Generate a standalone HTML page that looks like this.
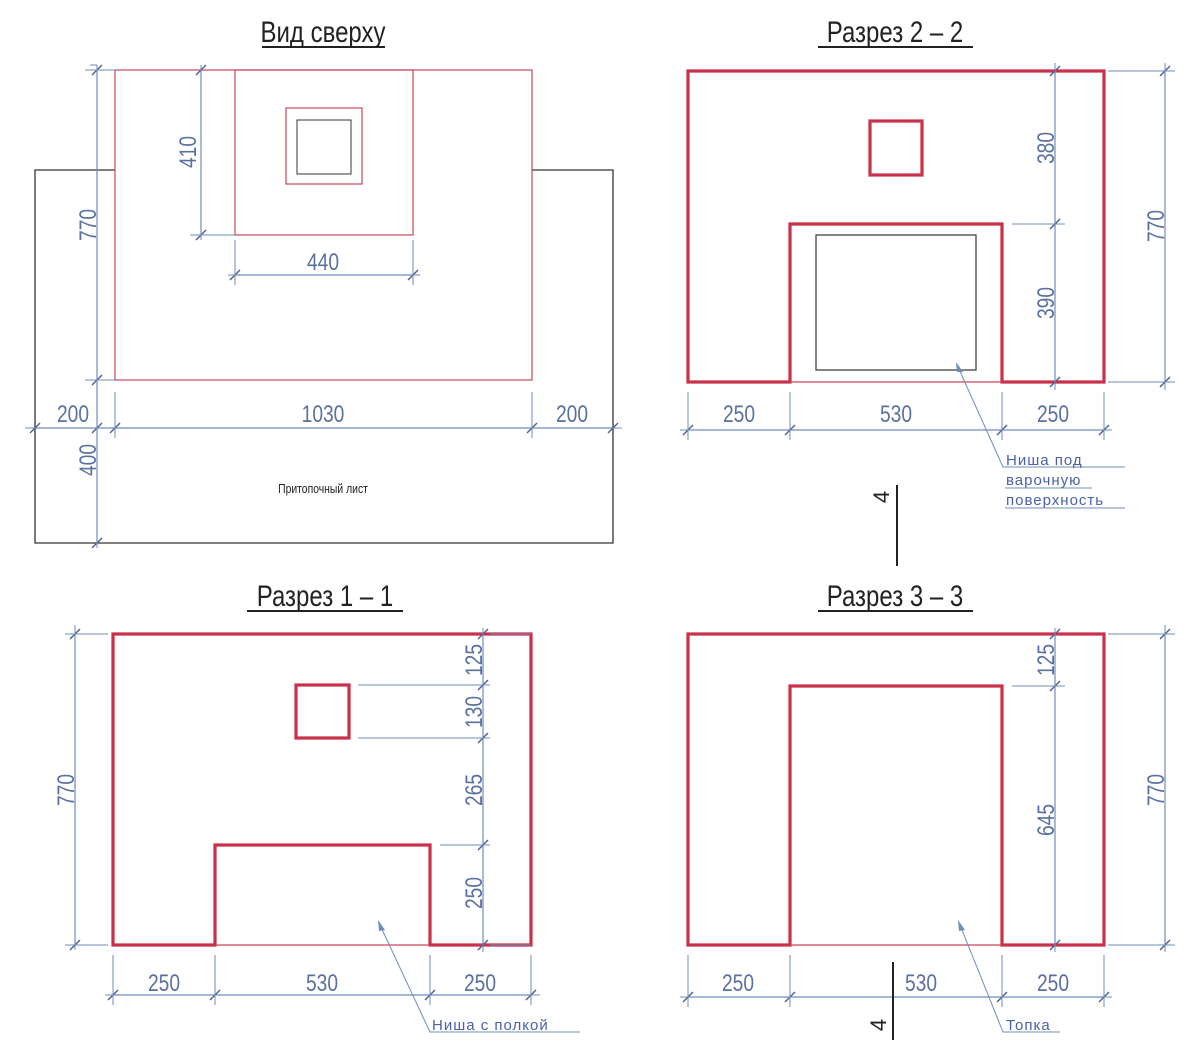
<!DOCTYPE html>
<html><head><meta charset="utf-8"><style>
html,body{margin:0;padding:0;background:#fff;}
svg{display:block;}
.d{fill:none;stroke:#6f8cba;stroke-width:1.2;marker-start:url(#t);marker-mid:url(#t);marker-end:url(#t);}
.e{fill:none;stroke:#6f8cba;stroke-width:1;}
.rt{fill:none;stroke:#c9485a;stroke-width:1.2;}
.rk{fill:none;stroke:#c9304a;stroke-width:3.2;stroke-linejoin:miter;}
.bk{fill:none;stroke:#333;stroke-width:1.3;}
text{font-family:"Liberation Sans",sans-serif;}
.n{fill:#5a70a0;font-size:24px;}
.ti{fill:#222;font-size:30px;}
.lb{fill:#4a60a8;font-size:15px;letter-spacing:1px;}
</style></head><body>
<svg width="1194" height="1055" viewBox="0 0 1194 1055" xmlns="http://www.w3.org/2000/svg">
<defs><marker id="t" markerWidth="14" markerHeight="14" refX="7" refY="7" markerUnits="userSpaceOnUse"><line x1="2" y1="12" x2="12" y2="2" stroke="#4a6090" stroke-width="1.4"/></marker></defs>

<!-- Titles -->
<g transform="translate(323,42) scale(0.8,1)"><text class="ti" text-anchor="middle">Вид сверху</text></g>
<line x1="262" y1="47" x2="385" y2="47" stroke="#222" stroke-width="2"/>
<g transform="translate(895,42) scale(0.8,1)"><text class="ti" text-anchor="middle">Разрез 2 – 2</text></g>
<line x1="818" y1="47" x2="973" y2="47" stroke="#222" stroke-width="2"/>
<g transform="translate(325,606) scale(0.8,1)"><text class="ti" text-anchor="middle">Разрез 1 – 1</text></g>
<line x1="247" y1="611" x2="403" y2="611" stroke="#222" stroke-width="2"/>
<g transform="translate(895,606) scale(0.8,1)"><text class="ti" text-anchor="middle">Разрез 3 – 3</text></g>
<line x1="818" y1="611" x2="973" y2="611" stroke="#222" stroke-width="2"/>

<!-- TOP VIEW -->
<path class="bk" d="M115,170 H35 V543 H613 V170 H532"/>
<rect class="rt" x="115" y="70" width="417" height="310"/>
<rect class="rt" x="235" y="70" width="178" height="165"/>
<rect class="rt" x="286" y="108" width="76" height="76"/>
<rect class="bk" x="297" y="120" width="54" height="54" style="stroke-width:1"/>
<polyline class="d" points="97,70 97,380 97,428 97,543"/>
<line class="e" x1="90" y1="65" x2="97" y2="65"/>
<line class="e" x1="97" y1="65" x2="97" y2="548"/>
<polyline class="d" points="35,428 115,428 532,428 613,428"/>
<line class="e" x1="25" y1="428" x2="622" y2="428"/>
<line class="e" x1="115" y1="392" x2="115" y2="438"/>
<line class="e" x1="532" y1="392" x2="532" y2="438"/>
<line class="e" x1="85" y1="70" x2="115" y2="70"/>
<line class="e" x1="85" y1="380" x2="115" y2="380"/>
<polyline class="d" points="201,70 201,235"/>
<line class="e" x1="201" y1="65" x2="201" y2="240"/>
<line class="e" x1="190" y1="235" x2="235" y2="235"/>
<polyline class="d" points="235,275 413,275"/>
<line class="e" x1="228" y1="275" x2="420" y2="275"/>
<line class="e" x1="235" y1="240" x2="235" y2="285"/>
<line class="e" x1="413" y1="240" x2="413" y2="285"/>
<g transform="translate(96,225) rotate(-90) scale(0.8,1)"><text class="n" text-anchor="middle">770</text></g>
<g transform="translate(96,460) rotate(-90) scale(0.8,1)"><text class="n" text-anchor="middle">400</text></g>
<g transform="translate(196,152) rotate(-90) scale(0.8,1)"><text class="n" text-anchor="middle">410</text></g>
<g transform="translate(323,270) scale(0.8,1)"><text class="n" text-anchor="middle">440</text></g>
<g transform="translate(73,422) scale(0.8,1)"><text class="n" text-anchor="middle">200</text></g>
<g transform="translate(323,422) scale(0.8,1)"><text class="n" text-anchor="middle">1030</text></g>
<g transform="translate(572,422) scale(0.8,1)"><text class="n" text-anchor="middle">200</text></g>
<g transform="translate(323,493) scale(0.8,1)"><text style="font-size:13px;fill:#222" text-anchor="middle">Притопочный лист</text></g>

<!-- SECTION 2-2 -->
<path class="rk" d="M790,382 H688 V71 H1104 V382 H1002 V224 H790 Z"/>
<line class="rt" x1="790" y1="382" x2="1002" y2="382"/>
<rect class="rk" x="870" y="121" width="52" height="54"/>
<rect class="bk" x="816" y="235" width="160" height="135" style="stroke-width:1.2"/>
<polyline class="d" points="1055,71 1055,224 1055,382"/>
<line class="e" x1="1055" y1="63" x2="1055" y2="390"/>
<polyline class="d" points="1165,71 1165,382"/>
<line class="e" x1="1165" y1="63" x2="1165" y2="390"/>
<line class="e" x1="1108" y1="71" x2="1175" y2="71"/>
<line class="e" x1="1108" y1="382" x2="1175" y2="382"/>
<line class="e" x1="1012" y1="224" x2="1065" y2="224"/>
<polyline class="d" points="688,430 790,430 1002,430 1104,430"/>
<line class="e" x1="680" y1="430" x2="1112" y2="430"/>
<line class="e" x1="688" y1="392" x2="688" y2="440"/>
<line class="e" x1="790" y1="392" x2="790" y2="440"/>
<line class="e" x1="1002" y1="392" x2="1002" y2="440"/>
<line class="e" x1="1104" y1="392" x2="1104" y2="440"/>
<g transform="translate(1054,148) rotate(-90) scale(0.8,1)"><text class="n" text-anchor="middle">380</text></g>
<g transform="translate(1054,303) rotate(-90) scale(0.8,1)"><text class="n" text-anchor="middle">390</text></g>
<g transform="translate(1164,226) rotate(-90) scale(0.8,1)"><text class="n" text-anchor="middle">770</text></g>
<g transform="translate(739,422) scale(0.8,1)"><text class="n" text-anchor="middle">250</text></g>
<g transform="translate(896,422) scale(0.8,1)"><text class="n" text-anchor="middle">530</text></g>
<g transform="translate(1053,422) scale(0.8,1)"><text class="n" text-anchor="middle">250</text></g>
<path class="e" d="M958,367 L1003,467 H1125"/>
<path d="M956,362 L963,372 L957,372 Z" fill="#6f8cba"/>
<text class="lb" x="1006" y="465">Ниша под</text>
<text class="lb" x="1006" y="485">варочную</text>
<line class="e" x1="1005" y1="488" x2="1092" y2="488"/>
<text class="lb" x="1006" y="505">поверхность</text>
<line class="e" x1="1005" y1="508" x2="1125" y2="508"/>
<line x1="897" y1="485" x2="897" y2="566" stroke="#222" stroke-width="2"/>
<g transform="translate(889,497) rotate(-90)"><text style="font-size:22px;fill:#222" text-anchor="middle">4</text></g>

<!-- SECTION 1-1 -->
<path class="rk" d="M215,945 H113 V634 H531 V945 H430 V845 H215 Z"/>
<line class="rt" x1="215" y1="945" x2="430" y2="945"/>
<rect class="rk" x="296" y="685" width="53" height="53"/>
<polyline class="d" points="483,634 483,685 483,738 483,845 483,945"/>
<line class="e" x1="483" y1="628" x2="483" y2="952"/>
<line class="e" x1="358" y1="685" x2="490" y2="685"/>
<line class="e" x1="358" y1="738" x2="490" y2="738"/>
<line class="e" x1="440" y1="845" x2="490" y2="845"/>
<line class="e" x1="531" y1="634" x2="490" y2="634"/>
<line class="e" x1="531" y1="945" x2="490" y2="945"/>
<polyline class="d" points="75,634 75,945"/>
<line class="e" x1="75" y1="625" x2="75" y2="950"/>
<line class="e" x1="65" y1="634" x2="108" y2="634"/>
<line class="e" x1="65" y1="945" x2="108" y2="945"/>
<polyline class="d" points="113,995 215,995 430,995 531,995"/>
<line class="e" x1="105" y1="995" x2="540" y2="995"/>
<line class="e" x1="113" y1="955" x2="113" y2="1005"/>
<line class="e" x1="215" y1="955" x2="215" y2="1005"/>
<line class="e" x1="430" y1="955" x2="430" y2="1005"/>
<line class="e" x1="531" y1="955" x2="531" y2="1005"/>
<g transform="translate(482,660) rotate(-90) scale(0.8,1)"><text class="n" text-anchor="middle">125</text></g>
<g transform="translate(482,712) rotate(-90) scale(0.8,1)"><text class="n" text-anchor="middle">130</text></g>
<g transform="translate(482,790) rotate(-90) scale(0.8,1)"><text class="n" text-anchor="middle">265</text></g>
<g transform="translate(482,893) rotate(-90) scale(0.8,1)"><text class="n" text-anchor="middle">250</text></g>
<g transform="translate(74,790) rotate(-90) scale(0.8,1)"><text class="n" text-anchor="middle">770</text></g>
<g transform="translate(164,991) scale(0.8,1)"><text class="n" text-anchor="middle">250</text></g>
<g transform="translate(322,991) scale(0.8,1)"><text class="n" text-anchor="middle">530</text></g>
<g transform="translate(480,991) scale(0.8,1)"><text class="n" text-anchor="middle">250</text></g>
<path class="e" d="M380,925 L430,1032 H580"/>
<path d="M378,920 L385,930 L379,931 Z" fill="#6f8cba"/>
<text class="lb" x="432" y="1030">Ниша с полкой</text>

<!-- SECTION 3-3 -->
<path class="rk" d="M790,945 H688 V634 H1104 V945 H1002 V686 H790 Z"/>
<line class="rt" x1="790" y1="945" x2="1002" y2="945"/>
<polyline class="d" points="1055,634 1055,686 1055,945"/>
<line class="e" x1="1055" y1="628" x2="1055" y2="952"/>
<line class="e" x1="1012" y1="686" x2="1065" y2="686"/>
<polyline class="d" points="1165,634 1165,945"/>
<line class="e" x1="1165" y1="625" x2="1165" y2="952"/>
<line class="e" x1="1108" y1="634" x2="1175" y2="634"/>
<line class="e" x1="1108" y1="945" x2="1175" y2="945"/>
<polyline class="d" points="688,997 790,997 1002,997 1104,997"/>
<line class="e" x1="680" y1="997" x2="1112" y2="997"/>
<line class="e" x1="688" y1="955" x2="688" y2="1007"/>
<line class="e" x1="790" y1="955" x2="790" y2="1007"/>
<line class="e" x1="1002" y1="955" x2="1002" y2="1007"/>
<line class="e" x1="1104" y1="955" x2="1104" y2="1007"/>
<g transform="translate(1054,660) rotate(-90) scale(0.8,1)"><text class="n" text-anchor="middle">125</text></g>
<g transform="translate(1054,820) rotate(-90) scale(0.8,1)"><text class="n" text-anchor="middle">645</text></g>
<g transform="translate(1164,790) rotate(-90) scale(0.8,1)"><text class="n" text-anchor="middle">770</text></g>
<g transform="translate(738,991) scale(0.8,1)"><text class="n" text-anchor="middle">250</text></g>
<g transform="translate(921,991) scale(0.8,1)"><text class="n" text-anchor="middle">530</text></g>
<g transform="translate(1053,991) scale(0.8,1)"><text class="n" text-anchor="middle">250</text></g>
<path class="e" d="M960,925 L1003,1032 H1060"/>
<path d="M958,920 L965,930 L959,931 Z" fill="#6f8cba"/>
<text class="lb" x="1006" y="1030">Топка</text>
<line x1="893" y1="962" x2="893" y2="1040" stroke="#222" stroke-width="2"/>
<g transform="translate(886,1025) rotate(-90)"><text style="font-size:22px;fill:#222" text-anchor="middle">4</text></g>
</svg>
</body></html>
